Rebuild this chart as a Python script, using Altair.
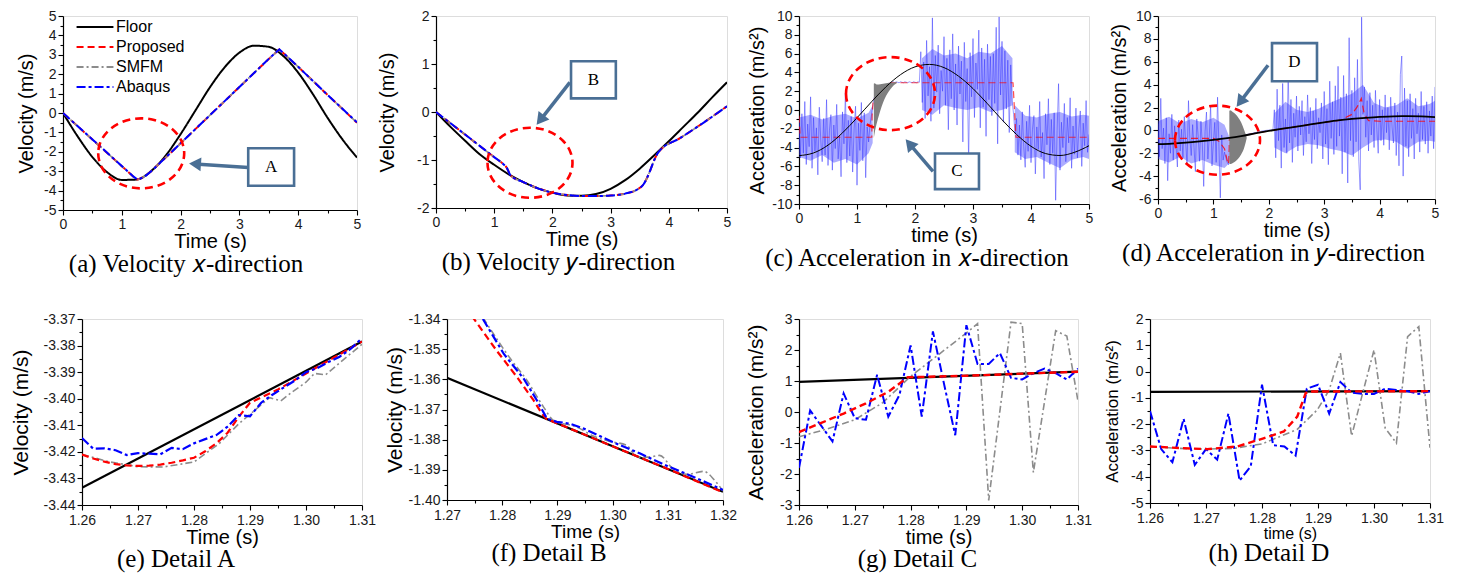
import json
import altair as alt
import pandas as pd

SANS = "Liberation Sans"
SERIF = "Liberation Serif"
SERIES = ["Floor", "Proposed", "SMFM", "Abaqus"]
COLORS = ["#000000", "#ff0000", "#8c8c8c", "#0000ff"]
DASHES = [[1, 0], [7, 4], [7, 3, 2, 3], [9, 3, 3, 3]]
WIDTHS = {"Floor": 2.0, "Proposed": 2.0, "SMFM": 1.6, "Abaqus": 2.0}
ARROW = "#4a6f95"
CLOUD = "#3030ff"

# ---------------- tick labels ----------------
TICK_T5 = [0, 1, 2, 3, 4, 5]
TICK_A_Y = [-5, -4, -3, -2, -1, 0, 1, 2, 3, 4, 5]
TICK_B_Y = [-2, -1, 0, 1, 2]
TICK_C_Y = [-10, -8, -6, -4, -2, 0, 2, 4, 6, 8, 10]
TICK_D_Y = [-6, -4, -2, 0, 2, 4, 6, 8, 10]
TICK_E_X = [1.26, 1.27, 1.28, 1.29, 1.30, 1.31]
TICK_E_Y = [-3.44, -3.43, -3.42, -3.41, -3.40, -3.39, -3.38, -3.37]
TICK_F_X = [1.27, 1.28, 1.29, 1.30, 1.31, 1.32]
TICK_F_Y = [-1.40, -1.39, -1.38, -1.37, -1.36, -1.35, -1.34]
TICK_G_Y = [-3, -2, -1, 0, 1, 2, 3]
TICK_H_Y = [-5, -4, -3, -2, -1, 0, 1, 2]

# ---------------- (a) velocity x ----------------
A_T = [0, 0.25, 0.5, 0.75, 1.0, 1.25, 1.5, 1.75, 2.0, 2.25, 2.5, 2.75, 3.0, 3.25, 3.5, 3.75, 4.0, 4.25, 4.5, 4.75, 5.0]
A_FLOOR = [0, -1.21, -2.27, -3.05, -3.45, -3.43, -2.99, -2.18, -1.09, 0.12, 1.33, 2.36, 3.11, 3.47, 3.41, 2.93, 2.08, 0.97, -0.25, -1.35, -2.3]
A_SIM_T = [0, 0.5, 1.0, 1.2, 1.26, 1.3, 1.4, 1.5, 1.6, 2.0, 2.5, 3.0, 3.5, 3.68, 4.0, 4.5, 5.0]
A_PROP = [0, -1.37, -2.74, -3.29, -3.42, -3.40, -3.25, -3.0, -2.72, -1.56, -0.11, 1.34, 2.79, 3.28, 2.38, 0.93, -0.5]
A_SMFM = [0, -1.37, -2.74, -3.29, -3.42, -3.40, -3.25, -3.0, -2.72, -1.56, -0.11, 1.34, 2.79, 3.28, 2.38, 0.93, -0.5]
A_ABAQ = [0, -1.36, -2.73, -3.28, -3.415, -3.40, -3.25, -3.0, -2.72, -1.56, -0.11, 1.34, 2.79, 3.28, 2.38, 0.93, -0.48]

# ---------------- (b) velocity y ----------------
B_FLOOR = [0, -0.31, -0.6, -0.88, -1.1, -1.3, -1.46, -1.59, -1.68, -1.74, -1.745, -1.71, -1.6, -1.42, -1.18, -0.9, -0.61, -0.31, -0.01, 0.31, 0.62]
B_SIM_T = [0, 0.5, 1.0, 1.15, 1.22, 1.28, 1.5, 1.75, 2.0, 2.25, 2.5, 2.75, 3.0, 3.25, 3.45, 3.57, 3.67, 3.75, 3.82, 4.2, 4.6, 5.0]
B_PROP = [0, -0.47, -0.94, -1.08, -1.17, -1.32, -1.46, -1.59, -1.68, -1.73, -1.75, -1.75, -1.74, -1.7, -1.62, -1.5, -1.25, -1.0, -0.84, -0.54, -0.22, 0.12]

# ---------------- (c) acceleration x ----------------
C_FLOOR = [-4.85, -4.57, -3.74, -2.43, -0.83, 0.87, 2.47, 3.76, 4.59, 4.85, 4.51, 3.6, 2.28, 0.66, -1.04, -2.6, -3.86, -4.63, -4.84, -4.5, -3.8]
C_PROP_T = [0, 0.02, 1.255, 1.26, 1.28, 1.35, 1.42, 1.5, 1.58, 3.69, 3.74, 5.0]
C_PROP = [-0.6, -2.9, -2.9, -0.65, 1.1, 1.55, 2.0, 2.47, 2.9, 2.9, -2.9, -2.9]
C_SMFM_T = [1.29, 1.30, 1.35, 1.40, 1.45, 1.50, 1.55, 1.60, 1.65, 1.69]
C_SMFM_HI = [2.8, 2.85, 2.7, 2.75, 2.8, 2.85, 2.9, 2.9, 2.95, 2.95]
C_SMFM_LO = [-3.0, -2.6, -1.2, -0.1, 0.8, 1.5, 2.0, 2.4, 2.7, 2.9]
# dense core of the Abaqus scatter (three noisy stretches)
C_CORE = [
    ([0, 0.2, 0.4, 0.6, 0.8, 1.0, 1.2, 1.27],
     [-0.8, -0.5, -1.0, -0.6, -0.4, -0.9, -0.3, 0.5],
     [-5.0, -5.4, -4.8, -5.6, -5.2, -5.8, -4.6, -3.5]),
    ([2.12, 2.3, 2.5, 2.7, 2.9, 3.1, 3.3, 3.5, 3.68],
     [5.5, 6.5, 5.8, 6.0, 5.5, 6.2, 6.0, 6.8, 5.5],
     [0.0, -0.5, 0.5, 0.2, 0.0, 0.3, -0.2, 0.0, 0.5]),
    ([3.72, 3.9, 4.1, 4.3, 4.5, 4.7, 4.9, 5.0],
     [0.5, -0.6, -0.8, -0.4, -0.2, -0.7, -0.5, -0.6],
     [-4.5, -5.2, -5.0, -5.6, -6.2, -5.3, -5.0, -5.2]),
]
C_ABAQ_STEP = 0.025
C_ABAQ = (
    [-1.2, -5.1, -0.4, -4.6, 0.9, -5.8, -1.5, -3.9, 1.4, -6.2,
     -0.8, -4.4, -1.9, -6.9, 0.3, -3.2, -5.5, -0.9, -4.8, 1.1,
     -5.9, -2.2, -0.5, -6.4, -1.6, -4.1, 0.6, -5.2, -2.7, -7.1,
     -0.2, -3.6, 1.8, -5.6, -1.1, -4.9, -0.7, -6.6, -2.0, 0.4,
     -8.0, -1.4, -4.3, 0.8, -5.4, -0.3, -7.2, -1.8, -3.4, -1.5, -0.5]
    + [0.6, 1.4]
    + [1.6, 1.8, 1.95, 2.1, 2.25, 2.4, 2.5, 2.6, 2.7, 2.8, 2.9]
    + [2.95, 3.0, 2.9, 3.0, 2.95, 2.9, 3.0, 2.95, 2.9, 3.0,
       2.95, 2.9, 3.0, 2.95, 2.9, 3.0, 2.95, 2.9, 3.0, 2.95]
    + [6.2, 0.8, 5.1, -0.9, 7.4, 1.5, 4.6, -1.2, 9.8, 0.2,
       5.8, 1.9, 6.9, -0.4, 4.2, 2.0, 7.8, 0.5, 5.5, -2.1,
       6.4, 1.2, 8.1, 0.0, 4.9, -1.6, 6.8, 1.7, 5.2, -3.4,
       7.2, 0.9, 4.4, -5.6, 6.1, 1.4, 7.6, -0.8, 5.0, 2.2,
       8.5, -1.9, 6.6, 0.3, 5.4, -2.8, 7.0, 1.1, 5.7, -0.6,
       6.0, 0.7, 8.8, -3.6, 9.9, 1.6, 7.3, -1.3, 6.3, 0.1,
       5.3, -2.4, 4.8, 1.0]
    + [-0.5, -2.5]
    + [-0.9, -4.8, -1.6, -5.3, -0.2, -3.9, -6.1, -1.2, -4.4, 0.5,
       -5.6, -2.1, -0.6, -6.8, -1.8, -4.2, 0.9, -5.0, -2.4, -7.3,
       -0.4, -3.7, 1.2, -5.8, -1.0, -4.6, -0.3, -9.6, -2.2, 2.8,
       -6.4, -1.3, -4.0, 0.7, -5.5, -0.8, -3.5, 1.3, -6.2, -1.7,
       -4.7, 0.2, -5.1, -2.0, -0.1, -6.0, -1.4, -3.8, 1.0, -4.5, -2.6]
)

# ---------------- (d) acceleration y ----------------
D_FLOOR = [-1.2, -1.15, -1.07, -0.96, -0.83, -0.68, -0.5, -0.27, -0.05, 0.15, 0.33, 0.52, 0.7, 0.87, 1.0, 1.1, 1.18, 1.23, 1.24, 1.22, 1.15]
D_PROP_T = [0, 1.0, 1.1, 1.2, 1.26, 1.27, 1.28, 1.288, 1.3, 1.5, 1.75, 2.0, 2.5, 3.0, 3.3, 3.5, 3.6, 3.67, 3.72, 3.8, 4.0, 5.0]
D_PROP = [-0.7, -0.7, -0.95, -1.6, -2.85, -2.95, -2.6, -0.8, -0.65, -0.5, -0.27, -0.05, 0.33, 0.7, 0.9, 1.4, 2.1, 2.8, 1.5, 0.85, 0.8, 0.8]
D_SMFM_T = [1.288, 1.30, 1.35, 1.40, 1.45, 1.50, 1.55, 1.58, 1.60]
D_SMFM_HI = [1.7, 1.75, 1.6, 1.4, 1.1, 0.7, 0.1, -0.3, -0.6]
D_SMFM_LO = [-2.9, -2.95, -2.85, -2.7, -2.45, -2.1, -1.6, -1.1, -0.7]
D_CORE = [
    ([0, 0.2, 0.4, 0.6, 0.8, 1.0, 1.2, 1.28],
     [0.8, 1.2, 0.6, 1.0, 0.7, 1.1, 0.5, -0.5],
     [-2.5, -2.8, -2.3, -2.9, -2.6, -3.0, -3.3, -2.9]),
    ([2.1, 2.3, 2.5, 2.7, 2.9, 3.1, 3.3, 3.5, 3.7, 3.9, 4.1, 4.3, 4.5, 4.7, 4.9, 5.0],
     [1.5, 2.5, 1.8, 1.6, 1.9, 2.4, 2.8, 3.2, 4.0, 2.4, 2.0, 2.2, 2.8, 2.1, 2.3, 2.6],
     [-1.5, -2.0, -1.4, -1.2, -1.3, -1.6, -1.8, -2.2, -1.5, -0.9, -0.8, -1.0, -1.6, -1.0, -0.9, -1.0]),
]
D_ABAQ = (
    [0.6, -2.3, 2.8, -1.6, 0.2, -2.9, 1.1, -4.4, -0.3, -2.0,
     1.4, -2.6, 0.4, -1.3, -3.2, 0.9, -1.8, 0.1, -2.4, 1.2,
     -1.1, -3.0, 2.6, -0.7, -2.2, 0.5, -1.5, -3.6, 1.0, -0.5,
     -2.7, 0.8, -1.2, -4.9, -0.1, 1.6, -2.5, -0.6, 2.2, -3.1,
     -1.0, 0.7, -2.8, 2.9, -1.4, -5.9, -0.4, -2.6, -1.9, -2.4, -2.8]
    + [-3.0, -0.7]
    + [-0.62, -0.6, -0.58, -0.56, -0.54, -0.52, -0.5, -0.47, -0.45, -0.42,
       -0.4, -0.37, -0.34, -0.31, -0.28, -0.26, -0.23, -0.2, -0.17, -0.14,
       -0.12, -0.09, -0.06, -0.04, -0.02, 0.0, 0.01, 0.02, 0.03, 0.04, 0.05]
    + [1.8, -2.4, 3.6, -0.9, 2.2, -3.3, 4.1, -1.5, 1.0, -2.0,
       5.2, -1.1, 2.7, -2.8, 1.5, -0.6, 3.0, -1.8, 2.1, -0.4,
       2.6, -2.2, 1.2, -1.0, 3.1, -0.3, 2.0, -2.9, 1.7, -0.8,
       2.8, -1.6, 1.1, -0.2, 2.4, -2.5, 3.4, -1.2, 1.9, -3.0,
       4.3, -0.7, 2.5, -2.1, 3.9, -1.4, 5.6, -0.5, 2.9, -3.8,
       4.8, -1.9, 3.2, -4.6, 8.1, -0.9, 3.5, -2.3, 4.6, -1.0,
       6.2, -2.7, -5.2, 9.9, 1.4, 3.8, -0.6, 2.6, -1.8, 3.3,
       -0.4, 2.2, -1.5, 3.5, 0.1, -2.0, 2.7, -0.9, 1.8, -1.3,
       3.1, -0.2, 2.0, -1.7, 2.9, 0.3, -1.1, 2.4, -2.2, 1.6,
       -3.1, 4.9, 6.5, -4.0, 3.7, -1.4, 2.6, -2.3, 3.2, -0.7,
       1.9, -2.5, 2.8, -0.3, 1.5, -1.9, 3.4, -0.8, 2.1, -1.2,
       2.5, -2.0, 1.7, -0.5, 3.0, -1.6, 3.8]
)

# ---------------- (e) detail A ----------------
E_FLOOR_T = [1.26, 1.31]
E_FLOOR = [-3.4335, -3.3785]
E_PROP_T = [1.26, 1.262, 1.264, 1.266, 1.268, 1.27, 1.272, 1.274, 1.276, 1.278, 1.28, 1.282, 1.284, 1.286, 1.288, 1.29, 1.292, 1.295, 1.30, 1.305, 1.31]
E_PROP = [-3.421, -3.4225, -3.4237, -3.4246, -3.4251, -3.4253, -3.4252, -3.4248, -3.4241, -3.4232, -3.4222, -3.4198, -3.4168, -3.4128, -3.4068, -3.4015, -3.3995, -3.3965, -3.3905, -3.3845, -3.3785]
E_SMFM_T = [1.26, 1.265, 1.27, 1.2745, 1.28, 1.2845, 1.288, 1.2905, 1.2935, 1.2955, 1.2975, 1.30, 1.3015, 1.3035, 1.306, 1.31]
E_SMFM = [-3.421, -3.4238, -3.4256, -3.4257, -3.4238, -3.4169, -3.4094, -3.405, -3.3996, -3.4008, -3.3975, -3.3938, -3.3905, -3.391, -3.3865, -3.3795]
E_ABAQ_T0 = 1.26
E_ABAQ = [-3.4148, -3.4188, -3.4187, -3.4194, -3.4212, -3.4205, -3.4207, -3.4209, -3.4185, -3.419,
          -3.4168, -3.4152, -3.4137, -3.4105, -3.4062, -3.4066, -3.4015, -3.3985, -3.3958, -3.3932,
          -3.390, -3.3885, -3.3862, -3.3842, -3.3812, -3.3772]

# ---------------- (f) detail B ----------------
F_FLOOR_T = [1.27, 1.32]
F_FLOOR = [-1.3595, -1.3973]
F_PROP_T = [1.2745, 1.279, 1.2827, 1.2857, 1.2872, 1.288, 1.29, 1.30, 1.31, 1.32]
F_PROP = [-1.339, -1.3505, -1.3593, -1.367, -1.3714, -1.3731, -1.3746, -1.3822, -1.3897, -1.3975]
F_SMFM_T = [1.2765, 1.2815, 1.2845, 1.2875, 1.2893, 1.2935, 1.2965, 1.2995, 1.3025, 1.3045, 1.3065, 1.3085, 1.311, 1.3135, 1.3165, 1.3185, 1.32]
F_SMFM = [-1.3395, -1.3532, -1.3604, -1.3692, -1.3736, -1.3758, -1.3788, -1.3806, -1.3818, -1.3858, -1.3858, -1.3852, -1.3898, -1.3915, -1.3905, -1.3935, -1.397]
F_ABAQ_T = [1.2765, 1.2803, 1.2839, 1.2863, 1.2881, 1.2899, 1.2923, 1.295, 1.30, 1.305, 1.31, 1.315, 1.32]
F_ABAQ = [-1.34, -1.3516, -1.3598, -1.367, -1.373, -1.3741, -1.3747, -1.3765, -1.3808, -1.3846, -1.3888, -1.3926, -1.3967]

# ---------------- (g) detail C ----------------
G_FLOOR_T = [1.26, 1.31]
G_FLOOR = [0.97, 1.3]
G_PROP_T = [1.26, 1.264, 1.268, 1.272, 1.276, 1.2795, 1.29, 1.31]
G_PROP = [-0.65, -0.35, -0.05, 0.28, 0.65, 1.12, 1.17, 1.3]
G_SMFM_T = [1.26, 1.265, 1.27, 1.275, 1.28, 1.285, 1.29, 1.292, 1.294, 1.298, 1.30, 1.302, 1.306, 1.308, 1.31]
G_SMFM = [-0.8, -0.55, -0.25, 0.3, 1.15, 1.85, 2.55, 2.85, -2.85, 2.9, 2.85, -1.95, 2.62, 2.45, 0.35]
G_ABAQ_T0 = 1.26
G_ABAQ = [-1.8, 0.05, -0.45, -0.95, 0.6, -0.2, -0.25, 1.2, -0.15, 0.55,
          2.15, -0.15, 2.6, 0.9, -0.75, 2.8, 1.55, 1.55, 1.9, 1.1,
          1.05, 1.25, 1.4, 1.25, 1.05, 1.4]

# ---------------- (h) detail D ----------------
H_FLOOR_T = [1.26, 1.31]
H_FLOOR = [-0.77, -0.745]
H_PROP_T = [1.26, 1.2655, 1.2702, 1.2756, 1.2804, 1.2839, 1.2863, 1.2878, 1.289, 1.31]
H_PROP = [-2.85, -2.91, -2.95, -2.85, -2.53, -2.28, -1.71, -0.82, -0.76, -0.745]
H_SMFM_T = [1.26, 1.265, 1.27, 1.275, 1.28, 1.2863, 1.2899, 1.292, 1.294, 1.296, 1.298, 1.30, 1.302, 1.304, 1.306, 1.308, 1.31]
H_SMFM = [-2.85, -2.92, -2.95, -2.92, -2.75, -2.2, -1.45, -0.7, 0.7, -2.45, -0.8, 0.82, -2.15, -2.72, 1.33, 1.71, -2.9]
H_ABAQ_T0 = 1.26
H_ABAQ = [-1.5, -2.95, -3.45, -1.8, -3.55, -2.95, -3.35, -1.6, -4.15, -3.6,
          -0.5, -2.8, -2.85, -3.2, -0.65, -0.5, -1.6, -0.4, -0.8, -0.85,
          -0.85, -0.65, -0.7, -0.75, -0.85, -0.75]
DETAIL_STEP = 0.002

# ---------------- callouts (data coordinates of each panel) ----------------
ANN_A = {"ell": (1.33, -2.08), "ell_px": (86, 70), "box": (3.15, 3.93, -1.82, -3.75), "letter": "A",
         "tail": (3.15, -2.81), "head": (2.245, -2.63), "angle": 274}
ANN_B = {"ell": (1.615, -1.058), "ell_px": (85, 70), "box": (2.32, 3.09, 1.058, 0.283), "letter": "B",
         "tail": (2.30, 0.618), "head": (1.792, -0.168), "angle": 218}
ANN_C = {"ell": (1.578, 1.74), "ell_px": (89, 73), "box": (2.345, 3.103, -4.63, -8.42), "letter": "C",
         "tail": (2.31, -6.53), "head": (1.905, -3.61), "angle": 320}
ANN_D = {"ell": (1.074, -0.857), "ell_px": (85, 69), "box": (2.058, 2.87, 7.63, 4.29), "letter": "D",
         "tail": (1.986, 5.69), "head": (1.484, 2.49), "angle": 217}


# ---------------- helpers ----------------
def make_axis(major, fmt, title, tsize, tpad, lsize=14, lpad=2):
    vals = []
    for i in range(len(major) - 1):
        vals.append(major[i])
        vals.append(round((major[i] + major[i + 1]) / 2, 6))
    vals.append(major[-1])
    test = "indexof(" + json.dumps(major) + ", datum.value) >= 0"
    return alt.Axis(
        values=vals, format=fmt,
        labelExpr=test + " ? replace(datum.label, '\u2212', '-') : ''",
        tickSize={"condition": {"test": test, "value": 5}, "value": 3},
        title=title, titleFont=SANS, titleFontSize=tsize, titleFontWeight="normal",
        titleColor="black", titlePadding=tpad,
        labelFont=SANS, labelFontSize=lsize, labelColor="#1a1a1a", labelPadding=lpad,
        labelFlush=False, labelOverlap=False, labelBound=False,
        tickColor="black", tickWidth=1.1, domainColor="black", domainWidth=1.2, grid=False)


def xy(xs, ys, xa, ya, x2=False, y2=False):
    e = {"x": alt.X("t:Q", scale=xs, axis=xa), "y": alt.Y("v:Q", scale=ys, axis=ya)}
    if x2:
        e["x2"] = alt.X2("t2:Q")
    if y2:
        e["y2"] = alt.Y2("v2:Q")
    return e


def L_line(t, v, name, interp="linear", width=None, legend=None, opacity=1.0, color=None, dash=None):
    i = SERIES.index(name)
    sw = width if width is not None else WIDTHS[name]

    def build(xs, ys, xa, ya):
        d = pd.DataFrame({"t": t, "v": v, "s": [name] * len(t)})
        if legend is not None:
            return alt.Chart(d).mark_line(clip=True, interpolate=interp, strokeWidth=sw).encode(
                color=alt.Color("s:N", scale=alt.Scale(domain=SERIES, range=COLORS), legend=legend),
                strokeDash=alt.StrokeDash("s:N", scale=alt.Scale(domain=SERIES, range=DASHES), legend=legend),
                **xy(xs, ys, xa, ya))
        kw = dict(clip=True, interpolate=interp, strokeWidth=sw, color=color or COLORS[i], opacity=opacity)
        dd = dash if dash is not None else DASHES[i]
        if dd != [1, 0]:
            kw["strokeDash"] = dd
        return alt.Chart(d).mark_line(**kw).encode(**xy(xs, ys, xa, ya))
    return build


def L_area(t, hi, lo, color, opacity=1.0, interp="monotone"):
    def build(xs, ys, xa, ya):
        d = pd.DataFrame({"t": t, "v": hi, "v2": lo})
        return alt.Chart(d).mark_area(clip=True, color=color, opacity=opacity, interpolate=interp).encode(
            **xy(xs, ys, xa, ya, y2=True))
    return build


def L_ann(ann):
    def build(xs, ys, xa, ya):
        ew, eh = ann["ell_px"]
        r = eh / ew
        path = f"M-1,0A1,{r:.3f},0,1,0,1,0A1,{r:.3f},0,1,0,-1,0Z"
        ell = alt.Chart(pd.DataFrame({"t": [ann["ell"][0]], "v": [ann["ell"][1]]})).mark_point(
            shape=path, size=ew * ew, filled=False, color="#ff0000", strokeWidth=2.6,
            strokeDash=[8, 5], opacity=1).encode(**xy(xs, ys, xa, ya))
        shaft = alt.Chart(pd.DataFrame({"t": [ann["tail"][0]], "v": [ann["tail"][1]],
                                        "t2": [ann["head"][0]], "v2": [ann["head"][1]]})).mark_rule(
            color=ARROW, strokeWidth=3.5).encode(**xy(xs, ys, xa, ya, x2=True, y2=True))
        head = alt.Chart(pd.DataFrame({"t": [ann["head"][0]], "v": [ann["head"][1]]})).mark_point(
            shape="triangle-up", filled=True, color=ARROW, size=190, angle=ann["angle"], opacity=1).encode(
            **xy(xs, ys, xa, ya))
        b = ann["box"]
        box = alt.Chart(pd.DataFrame({"t": [b[0]], "t2": [b[1]], "v": [b[2]], "v2": [b[3]]})).mark_rect(
            fill="white", stroke=ARROW, strokeWidth=2.6).encode(**xy(xs, ys, xa, ya, x2=True, y2=True))
        txt = alt.Chart(pd.DataFrame({"t": [(b[0] + b[1]) / 2], "v": [(b[2] + b[3]) / 2]})).mark_text(
            text=ann["letter"], font=SERIF, fontSize=17, color="black", baseline="middle", align="center").encode(
            **xy(xs, ys, xa, ya))
        return alt.layer(ell, shaft, head, box, txt)
    return build


def panel(layers, xdom, ydom, xaxis, yaxis, w, h, caption, cap_off=0, cap_dx=0):
    xs = alt.Scale(domain=xdom, nice=False, zero=False)
    ys = alt.Scale(domain=ydom, nice=False, zero=False)
    charts = [f(xs, ys, xaxis, yaxis) for f in layers]
    return alt.layer(*charts).properties(
        width=w, height=h,
        title=alt.TitleParams(text=caption, orient="bottom", anchor="middle", font=SERIF, fontSize=25,
                              fontWeight="normal", color="black", offset=cap_off, dx=cap_dx))


def grid_t(t0, step, n):
    return [round(t0 + step * i, 4) for i in range(n)]


def cores(segs):
    return [L_area(t, hi, lo, CLOUD, opacity=0.4, interp="linear") for (t, hi, lo) in segs]


def spacer():
    return alt.Chart(pd.DataFrame({"t": [0]})).mark_text(text="").encode(
        x=alt.value(0), y=alt.value(0)).properties(width=1, height=1, view=alt.ViewBackground(strokeOpacity=0))


def own(ch):
    return ch.resolve_scale(color="independent", strokeDash="independent").resolve_legend(
        color="independent", strokeDash="independent")


LEGEND = alt.Legend(orient="none", legendX=24, legendY=3, title=None, symbolType="M-4,0H4", symbolSize=85,
                    symbolStrokeWidth=2, labelFont=SANS, labelFontSize=16, labelColor="black", labelOffset=13,
                    rowPadding=4, padding=0)

# ---------------- panels ----------------
pa = panel(
    [L_line(A_T, A_FLOOR, "Floor", "monotone", legend=LEGEND),
     L_line(A_SIM_T, A_PROP, "Proposed", legend=LEGEND),
     L_line(A_SIM_T, A_SMFM, "SMFM", legend=LEGEND),
     L_line(A_SIM_T, A_ABAQ, "Abaqus", legend=LEGEND),
     L_ann(ANN_A)],
    [0, 5], [-5, 5],
    make_axis(TICK_T5, ".0f", "Time (s)", 20, 0), make_axis(TICK_A_Y, ".0f", "Velocity (m/s)", 20, 7.1),
    294, 194, "(a) Velocity \U0001D465-direction", cap_off=1, cap_dx=-24)

pb = panel(
    [L_line(A_T, B_FLOOR, "Floor", "monotone"),
     L_line(B_SIM_T, B_PROP, "Proposed", "monotone"),
     L_line(B_SIM_T, B_PROP, "SMFM", "monotone"),
     L_line(B_SIM_T, B_PROP, "Abaqus", "monotone"),
     L_ann(ANN_B)],
    [0, 5], [-2, 2],
    make_axis(TICK_T5, ".0f", "Time (s)", 20, 0), make_axis(TICK_B_Y, ".0f", "Velocity (m/s)", 20, 18.6),
    291, 192, "(b) Velocity \U0001D466-direction", cap_off=1, cap_dx=-23)

pc = panel(
    cores(C_CORE)
    + [L_line(grid_t(0, C_ABAQ_STEP, len(C_ABAQ)), C_ABAQ, "Abaqus", width=0.9, opacity=0.55, color=CLOUD, dash=[1, 0]),
       L_line(C_PROP_T, C_PROP, "Proposed", width=1.2, opacity=0.7),
       L_area(C_SMFM_T, C_SMFM_HI, C_SMFM_LO, "#7f7f7f"),
       L_line(A_T, C_FLOOR, "Floor", "monotone", width=1.0),
       L_ann(ANN_C)],
    [0, 5], [-10, 10],
    make_axis(TICK_T5, ".0f", "time (s)", 20, 0), make_axis(TICK_C_Y, ".0f", "Acceleration (m/s\u00b2)", 20, 3.8),
    290, 188, "(c) Acceleration in \U0001D465-direction", cap_off=1, cap_dx=-27)

pd_ = panel(
    cores(D_CORE)
    + [L_line(grid_t(0, C_ABAQ_STEP, len(D_ABAQ)), D_ABAQ, "Abaqus", width=0.9, opacity=0.55, color=CLOUD, dash=[1, 0]),
       L_line(D_PROP_T, D_PROP, "Proposed", width=1.2, opacity=0.8),
       L_area(D_SMFM_T, D_SMFM_HI, D_SMFM_LO, "#7f7f7f"),
       L_line(A_T, D_FLOOR, "Floor", "monotone", width=1.8),
       L_ann(ANN_D)],
    [0, 5], [-6, 10],
    make_axis(TICK_T5, ".0f", "time (s)", 20, 0), make_axis(TICK_D_Y, ".0f", "Acceleration (m/s\u00b2)", 20, 6.4),
    277, 183, "(d) Acceleration in \U0001D466-direction", cap_off=1, cap_dx=-23)

pe = panel(
    [L_line(E_FLOOR_T, E_FLOOR, "Floor", width=2.2),
     L_line(E_SMFM_T, E_SMFM, "SMFM"),
     L_line(E_PROP_T, E_PROP, "Proposed", width=2.2),
     L_line(grid_t(E_ABAQ_T0, DETAIL_STEP, len(E_ABAQ)), E_ABAQ, "Abaqus", width=2.2)],
    [1.26, 1.31], [-3.44, -3.37],
    make_axis(TICK_E_X, ".2f", "Time (s)", 20, 0, lpad=3), make_axis(TICK_E_Y, ".2f", "Velocity (m/s)", 21, 11.6),
    280, 186, "(e) Detail A", cap_off=0, cap_dx=-46)

pf = panel(
    [L_line(F_FLOOR_T, F_FLOOR, "Floor", width=2.2),
     L_line(F_SMFM_T, F_SMFM, "SMFM", "monotone"),
     L_line(F_PROP_T, F_PROP, "Proposed", width=2.2),
     L_line(F_ABAQ_T, F_ABAQ, "Abaqus", width=2.2)],
    [1.27, 1.32], [-1.40, -1.34],
    make_axis(TICK_F_X, ".2f", "Time (s)", 19, 0, lpad=3), make_axis(TICK_F_Y, ".2f", "Velocity (m/s)", 21, 2.5),
    276, 181, "(f) Detail B", cap_off=0, cap_dx=-36)

pg = panel(
    [L_line(G_FLOOR_T, G_FLOOR, "Floor", width=2.2),
     L_line(G_SMFM_T, G_SMFM, "SMFM"),
     L_line(grid_t(G_ABAQ_T0, DETAIL_STEP, len(G_ABAQ)), G_ABAQ, "Abaqus", width=2.0),
     L_line(G_PROP_T, G_PROP, "Proposed", width=2.4)],
    [1.26, 1.31], [-3, 3],
    make_axis(TICK_E_X, ".2f", "time (s)", 20, 0, lpad=3), make_axis(TICK_G_Y, ".0f", "Acceleration (m/s\u00b2)", 21, 13),
    279, 186, "(g) Detail C", cap_off=0, cap_dx=-21)

ph = panel(
    [L_line(H_FLOOR_T, H_FLOOR, "Floor", width=2.2),
     L_line(H_SMFM_T, H_SMFM, "SMFM"),
     L_line(grid_t(H_ABAQ_T0, DETAIL_STEP, len(H_ABAQ)), H_ABAQ, "Abaqus", width=2.0),
     L_line(H_PROP_T, H_PROP, "Proposed", width=2.4)],
    [1.26, 1.31], [-5, 2],
    make_axis(TICK_E_X, ".2f", "time (s)", 16, 0, lpad=3), make_axis(TICK_H_Y, ".0f", "Acceleration (m/s\u00b2)", 17, 9),
    280, 184, "(h) Detail D", cap_off=0, cap_dx=-21)

top_abc = own(alt.hconcat(pa, pb, pc, spacing=15))
top_all = own(alt.hconcat(top_abc, pd_, spacing=14))
row1 = own(alt.hconcat(spacer(), top_all, spacing=6))
row2 = alt.hconcat(spacer(), alt.hconcat(alt.hconcat(pe, pf, pg, spacing=7), ph, spacing=10), spacing=0)
chart = own(alt.vconcat(row1, row2, spacing=33)).properties(
    padding={"left": 0, "top": 0, "right": 0, "bottom": 0}
).configure_view(stroke="#8c8c8c", strokeWidth=1.2).configure(font=SANS)

chart.save("out.html", embed_options={"renderer": "svg", "actions": False})
